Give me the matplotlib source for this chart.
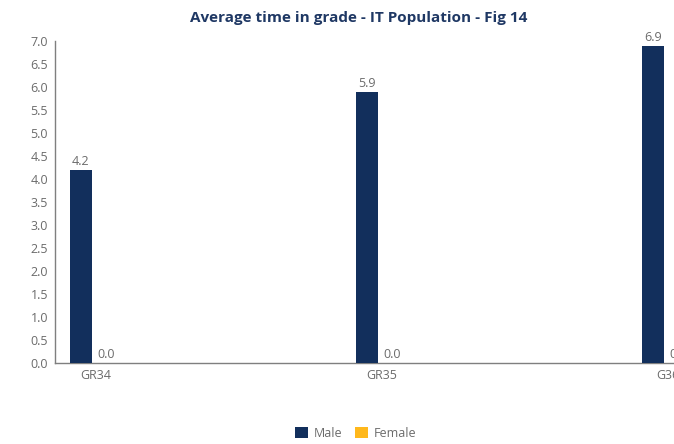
import matplotlib
matplotlib.use("Agg")
import matplotlib.pyplot as plt
import numpy as np
from matplotlib.patches import Patch

grades = ["GR34", "GR35", "G36"]
male = [4.2, 5.9, 6.9]
female = [0.0, 0.0, 0.0]
y_ticks = [0.0, 0.5, 1.0, 1.5, 2.0, 2.5, 3.0, 3.5, 4.0, 4.5, 5.0, 5.5, 6.0, 6.5, 7.0]

MALE_C = "#122f5c"
FEMALE_C = "#ffb81c"
TEXT_C = "#6b6b6b"
TITLE_C = "#1f3864"

plt.rcParams["font.family"] = ["Open Sans", "DejaVu Sans"]

W, H = 674, 444
fig = plt.figure(figsize=(W / 100, H / 100), dpi=100)

# axes box in pixels; right edge runs past the canvas
left_px, right_px = 55, 760
top_px, bottom_px = 41, 363
ax = fig.add_axes([left_px / W, 1 - bottom_px / H,
                   (right_px - left_px) / W, (bottom_px - top_px) / H])

step_px = 286.0
first_px = 92.0
bar_w = 22.0 / step_px
x = np.arange(len(grades))

ax.bar(x - bar_w / 2, male, width=bar_w, color=MALE_C, zorder=3)
ax.bar(x + bar_w / 2, female, width=bar_w, color=FEMALE_C, zorder=3)

for xi, m, f in zip(x, male, female):
    ax.text(xi - bar_w / 2, m + 0.04, f"{m:.1f}", ha="center", va="bottom",
            fontsize=9, color=TEXT_C, clip_on=False)
    ax.text(xi + bar_w / 2 + 0.01, f + 0.04, f"{f:.1f}", ha="center", va="bottom",
            fontsize=9, color=TEXT_C, clip_on=False)

ax.set_xlim((left_px - first_px) / step_px, (right_px - first_px) / step_px)
ax.set_ylim(0, 7.0)
ax.set_yticks(y_ticks)
ax.set_yticklabels([f"{v:.1f}" for v in y_ticks])
ax.set_xticks(x + 0.012)
ax.set_xticklabels(grades)
ax.tick_params(axis="both", length=0, labelsize=9, colors=TEXT_C)
ax.tick_params(axis="y", pad=5)
ax.tick_params(axis="x", pad=4)

for s in ("top", "right"):
    ax.spines[s].set_visible(False)
for s in ("left", "bottom"):
    ax.spines[s].set_color("#7f7f7f")
    ax.spines[s].set_linewidth(1.0)

fig.text(359 / W, 1 - 18 / H, "Average time in grade - IT Population - Fig 14",
         ha="center", va="center", fontsize=11, fontweight="bold", color=TITLE_C)

handles = [Patch(facecolor=MALE_C, label="Male"), Patch(facecolor=FEMALE_C, label="Female")]
fig.legend(handles=handles, loc="center", bbox_to_anchor=(356 / W, 1 - 433 / H),
           ncol=2, frameon=False, fontsize=9, labelcolor=TEXT_C,
           handlelength=1.0, handleheight=1.0, handletextpad=0.5, columnspacing=1.0)

fig.savefig("out.png", dpi=100)
